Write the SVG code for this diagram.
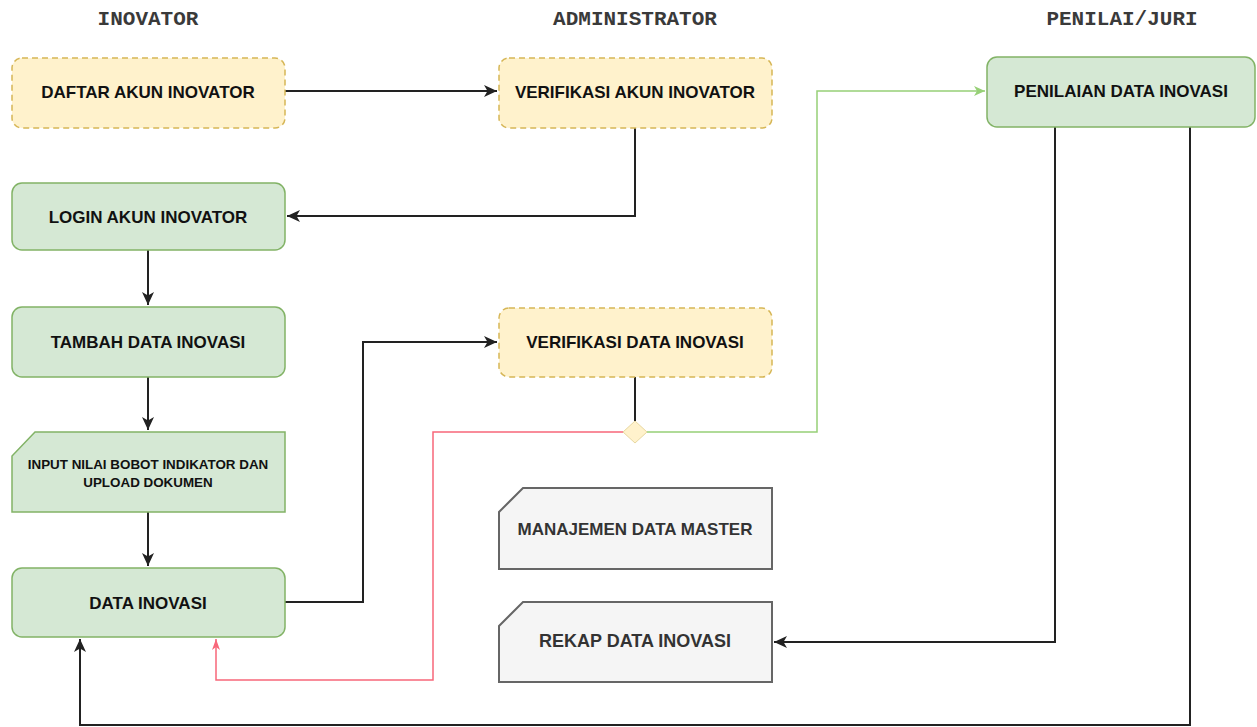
<svg xmlns="http://www.w3.org/2000/svg" width="1257" height="727" viewBox="0 0 1257 727">
<style>
.title{font-family:"Liberation Mono","Courier New",monospace;font-weight:bold;font-size:21px;fill:#3a3a3a;text-anchor:middle}
.lbl{font-family:"Liberation Sans",Arial,sans-serif;font-weight:bold;font-size:17px;fill:#111;text-anchor:middle;dominant-baseline:central}
.green{fill:#d5e8d4;stroke:#82b366;stroke-width:1.5}
.yellow{fill:#fff2cc;stroke:#d6b656;stroke-width:1.5;stroke-dasharray:6 4}
.grey{fill:#f5f5f5;stroke:#666;stroke-width:2}
.edge{fill:none;stroke:#222;stroke-width:2}
</style>
<defs>
<marker id="ab" markerUnits="userSpaceOnUse" markerWidth="14" markerHeight="12" refX="13" refY="6" orient="auto"><path d="M0,0 L13,6 L0,12 L3.5,6 z" fill="#222"/></marker>
<marker id="ag" markerUnits="userSpaceOnUse" markerWidth="12" markerHeight="10" refX="11" refY="5" orient="auto"><path d="M0,0 L11,5 L0,10 L3,5 z" fill="#97d077"/></marker>
<marker id="ar" markerUnits="userSpaceOnUse" markerWidth="12" markerHeight="10" refX="11" refY="5" orient="auto"><path d="M0,1 L11,5 L0,9 L3,5 z" fill="#f8677a"/></marker>
</defs>
<rect width="1257" height="727" fill="#fff"/>
<g id="titles">
<text class="title" x="148" y="25">INOVATOR</text>
<text class="title" x="635" y="25">ADMINISTRATOR</text>
<text class="title" x="1122" y="25">PENILAI/JURI</text>
</g>
<g id="connectors">
<path class="edge" d="M285,91 H497" marker-end="url(#ab)"/>
<path class="edge" d="M635,128 V216 H287" marker-end="url(#ab)"/>
<path class="edge" d="M148,250 V305" marker-end="url(#ab)"/>
<path class="edge" d="M148,377 V430" marker-end="url(#ab)"/>
<path class="edge" d="M148,512 V566" marker-end="url(#ab)"/>
<path class="edge" d="M285,602 H363 V342 H497" marker-end="url(#ab)"/>
<path class="edge" d="M635,377 V421"/>
<path fill="none" stroke="#97d077" stroke-width="1.5" d="M647,432 H817 V91 H985" marker-end="url(#ag)"/>
<path fill="none" stroke="#f8677a" stroke-width="1.5" d="M623,432 H433 V680 H216 V639" marker-end="url(#ar)"/>
<path class="edge" d="M1055,127 V642 H774" marker-end="url(#ab)"/>
<path class="edge" d="M1190,127 V725 H80 V639" marker-end="url(#ab)"/>
</g>
<g id="daftar"><rect class="yellow" x="12" y="58" width="273" height="70" rx="10"/><text class="lbl" x="148" y="92">DAFTAR AKUN INOVATOR</text></g>
<g id="verif-akun"><rect class="yellow" x="499" y="58" width="273" height="70" rx="10"/><text class="lbl" x="635" y="92">VERIFIKASI AKUN INOVATOR</text></g>
<g id="penilaian"><rect class="green" x="987" y="57" width="268" height="70" rx="10"/><text class="lbl" x="1121" y="91">PENILAIAN DATA INOVASI</text></g>
<g id="login"><rect class="green" x="12" y="183" width="273" height="67" rx="10"/><text class="lbl" x="148" y="217">LOGIN AKUN INOVATOR</text></g>
<g id="tambah"><rect class="green" x="12" y="307" width="273" height="70" rx="10"/><text class="lbl" x="148" y="342">TAMBAH DATA INOVASI</text></g>
<g id="verif-data"><rect class="yellow" x="499" y="308" width="273" height="69" rx="10"/><text class="lbl" x="635" y="342">VERIFIKASI DATA INOVASI</text></g>
<g id="decision"><path d="M635,421 L647,432 L635,443 L623,432 z" fill="#fff2cc" stroke="#e8d8a0" stroke-width="1"/></g>
<g id="input"><path class="green" d="M35,432 H285 V512 H12 V456 z"/><text class="lbl" style="font-size:13.4px" x="148" y="464">INPUT NILAI BOBOT INDIKATOR DAN</text><text class="lbl" style="font-size:13.4px" x="148" y="482">UPLOAD DOKUMEN</text></g>
<g id="manajemen"><path class="grey" d="M523,488 H772 V569 H499 V512 z"/><text class="lbl" style="fill:#333" x="635" y="529">MANAJEMEN DATA MASTER</text></g>
<g id="rekap"><path class="grey" d="M523,602 H772 V682 H499 V626 z"/><text class="lbl" style="fill:#333;font-size:18px" x="635" y="641">REKAP DATA INOVASI</text></g>
<g id="data-inovasi"><rect class="green" x="12" y="568" width="273" height="69" rx="10"/><text class="lbl" x="148" y="603">DATA INOVASI</text></g>
</svg>
